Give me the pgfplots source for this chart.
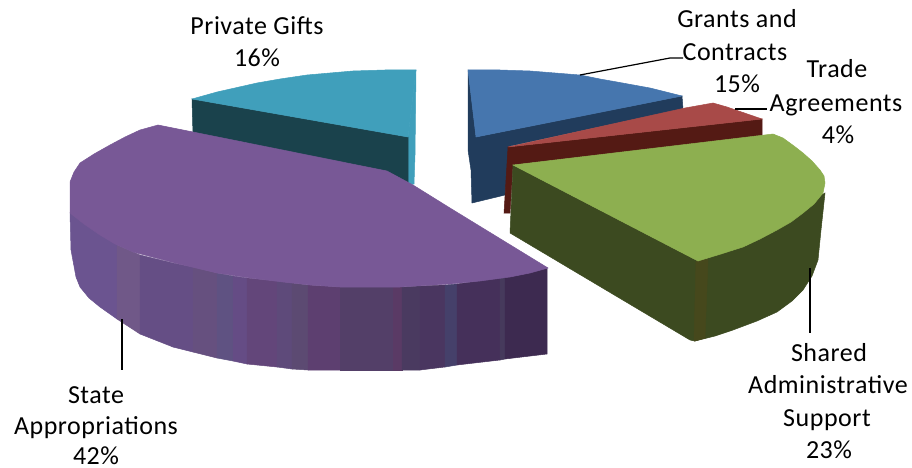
\documentclass[border=0pt]{standalone}
\usepackage{pgfplots}
\pgfplotsset{compat=1.18}
\usepackage{fontspec}
\setmainfont[LetterSpace=2]{Carlito}
\definecolor{bluetop}{HTML}{4676AE}
\definecolor{blueside}{HTML}{213C5C}
\definecolor{redtop}{HTML}{A84A48}
\definecolor{redside}{HTML}{541A14}
\definecolor{greentop}{HTML}{8DAF50}
\definecolor{greenside}{HTML}{3C4A20}
\definecolor{greenstrip}{HTML}{46481C}
\definecolor{tealtop}{HTML}{409FBB}
\definecolor{tealside}{HTML}{1A424C}
\definecolor{purpletop}{HTML}{785896}
% shades of the purple slice's curved wall, left to right
\definecolor{pa}{HTML}{6B5490}
\definecolor{pb}{HTML}{705888}
\definecolor{pc}{HTML}{654E85}
\definecolor{pd}{HTML}{66507F}
\definecolor{pe}{HTML}{5F5282}
\definecolor{pf}{HTML}{654C85}
\definecolor{pg}{HTML}{63467A}
\definecolor{ph}{HTML}{5E4A7A}
\definecolor{pi}{HTML}{5C4A72}
\definecolor{pj}{HTML}{5D3F70}
\definecolor{pk}{HTML}{533F68}
\definecolor{pl}{HTML}{5A3A65}
\definecolor{pm}{HTML}{4A3A60}
\definecolor{pn}{HTML}{4A3660}
\definecolor{po}{HTML}{45406A}
\definecolor{pp}{HTML}{45305A}
\definecolor{pq}{HTML}{463A5C}
\definecolor{pr}{HTML}{3D2A50}
\tikzset{lab/.style={font=\fontsize{26}{26}\selectfont,text=black,inner sep=0pt,anchor=base}}
\pgfplotsset{poly/.style={draw=#1,line width=0.5pt,fill=#1,forget plot}}
% one band of the purple slice's curved wall: x0 top0 bot0, x1 top1 bot1
\newcommand{\band}[7]{\addplot[poly=#1] coordinates {(#2,#3) (#5,#6) (#5,#7) (#2,#4)} --cycle;}
\begin{document}
\begin{tikzpicture}
\begin{axis}[
  scale only axis, width=912pt, height=468pt,
  xmin=0, xmax=912, ymin=0, ymax=468, y dir=reverse,
  hide axis, clip=false,
]
% invisible frame that fixes the extent of the page
\addplot[draw=none,forget plot] coordinates {(0,0) (912,468)};
% Grants and Contracts (blue)
\addplot[poly=blueside] coordinates {(468,70) (476,137) (682,96) (683,109) (510,146) (505,195) (472,203) (471,170) (468,150)} --cycle;
\addplot[poly=bluetop] coordinates {(476,137) (468,70) (500,70) (530,71) (555,73) (580,75) (600,79) (617,82) (650,88) (682,96)} --cycle;
% Trade Agreements (red)
\addplot[poly=redside] coordinates {(508,147) (762,119) (762,136) (513,165) (510,213) (504,213)} --cycle;
\addplot[poly=redtop] coordinates {(508,147) (685,108) (713,103) (727,107) (762,119)} --cycle;
% Shared Administrative Support (green)
\addplot[poly=greenside] coordinates {(513,165) (510,233) (690,340) (695,341) (715,336) (733,330) (757,321) (777,312) (792,301) (803,290) (812,276) (818,260) (821,230) (825,193) (698,261)} --cycle;
\addplot[poly=greenstrip] coordinates {(696,261) (708,259) (705,338) (695,341) (694,341)} --cycle;
\addplot[poly=greentop] coordinates {(513,165) (773,134) (783,138) (794,146) (803,153) (812,161) (820,170) (824,176) (825,183) (823,193) (814,204) (803,213) (791,222) (777,230) (760,239) (743,247) (721,254) (698,261)} --cycle;
% Private Gifts (teal)
\addplot[poly=tealtop] coordinates {(408,137) (416,70) (415,155) (414,184) (408,184)} --cycle;
\addplot[poly=tealside] coordinates {(192,99) (408,137) (408,184) (380,170) (193,135)} --cycle;
\addplot[poly=tealtop] coordinates {(408,137) (416,70) (385,70) (353,71) (330,73) (307,75) (280,79) (257,83) (217,92) (192,99)} --cycle;
% State Appropriations (purple): wall bands, then the top face
\addplot[poly=pa] coordinates {(70,213) (71,250) (76,277) (80,287) (89,298) (100,307) (117,319) (117,245)} --cycle;
\band{pb}{117}{245}{319}{140}{255}{334}
\band{pc}{140}{255}{334}{173}{263}{347}
\band{pc}{173}{263}{347}{193}{267}{352}
\band{pd}{193}{267}{352}{217}{273}{358}
\band{pe}{217}{273}{358}{233}{276}{361}
\band{pf}{233}{276}{361}{247}{278}{364}
\band{pg}{247}{278}{364}{277}{281}{367}
\band{ph}{277}{281}{367}{292}{283}{369}
\band{pi}{292}{283}{369}{308}{285}{370}
\band{pj}{308}{285}{370}{340}{287}{370}
\band{pk}{340}{287}{370}{393}{287}{370}
\band{pl}{393}{287}{370}{402}{287}{370}
\band{pm}{402}{287}{370}{420}{286}{370}
\band{pn}{420}{286}{370}{445}{285}{367}
\band{po}{445}{285}{367}{457}{284}{365}
\band{pp}{457}{284}{365}{500}{278}{360}
\band{pq}{500}{278}{360}{505}{277}{359}
\band{pr}{505}{277}{359}{547}{268}{354}
\addplot[poly=purpletop] coordinates {(158,125) (193,132) (387,171) (413,185) (450,208) (548,268) (530,273) (510,277) (480,281) (450,284) (400,287) (340,287) (310,285) (283,282) (250,278) (217,273) (175,263) (133,252) (115,244) (100,235) (84,224) (70,213) (70,182) (74,172) (80,163) (94,154) (110,145) (125,137) (140,130)} --cycle;
% Leader lines
\addplot[black,line width=1.2pt,forget plot] coordinates {(580,75) (670,58) (683,58)};
\addplot[black,line width=1.2pt,forget plot] coordinates {(735,109) (767,109)};
\addplot[black,line width=1.2pt,forget plot] coordinates {(810,268) (810,333)};
\addplot[black,line width=1.2pt,forget plot] coordinates {(122,319) (122,370)};
% Labels
\node[lab] at (axis cs:257,35) {Private Gifts};
\node[lab] at (axis cs:257,67) {16\%};
\node[lab] at (axis cs:737,28) {Grants and};
\node[lab] at (axis cs:735,61) {Contracts};
\node[lab] at (axis cs:737,93) {15\%};
\node[lab] at (axis cs:837,78) {Trade};
\node[lab] at (axis cs:836,111) {Agreements};
\node[lab] at (axis cs:838,143) {4\%};
\node[lab] at (axis cs:829,361) {Shared};
\node[lab] at (axis cs:828,393) {Administrative};
\node[lab] at (axis cs:827,426) {Support};
\node[lab] at (axis cs:829,458) {23\%};
\node[lab] at (axis cs:96,403) {State};
\node[lab] at (axis cs:96,434) {Appropriations};
\node[lab] at (axis cs:96,464) {42\%};
\end{axis}
\end{tikzpicture}
\end{document}
